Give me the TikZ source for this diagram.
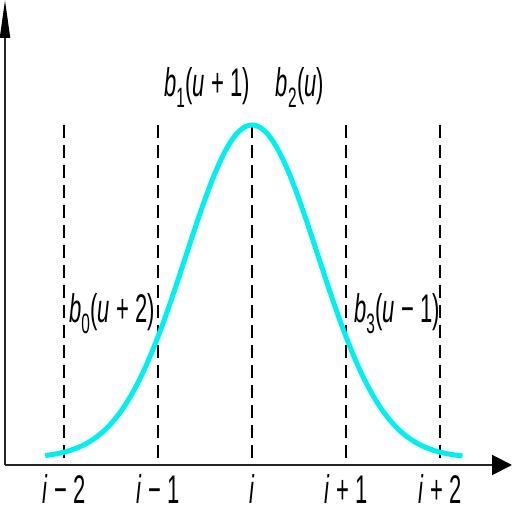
\documentclass[tikz,border=0pt]{standalone}
\usepackage{fontspec}
\setmainfont[FakeStretch=0.55]{Liberation Sans}
\usetikzlibrary{arrows.meta}
\definecolor{aqua}{RGB}{0,240,240}

\begin{document}
\begin{tikzpicture}[x=1pt, y=1pt,
  axis/.style={line width=2pt, color=black!85},
  knot/.style={dash pattern=on 13pt off 7pt, line width=1.3pt},
  basis/.style={line width=5pt, color=aqua},
  lbl/.style={font=\fontsize{40}{44}\selectfont, inner sep=0pt, anchor=base}
]
\useasboundingbox (0,0) rectangle (512,512);

% Axes
\coordinate (origin) at (5,47);
\coordinate (ytop) at (5,512);
\coordinate (xend) at (512,47);
\draw[axis, -{Triangle[length=38pt, width=10pt, color=black]}] (origin) -- (ytop);
\draw[axis, -{Triangle[length=20pt, width=20pt, color=black]}] (origin) -- (xend);

% Knot lines
\coordinate (km2) at (64,387);  \coordinate (km2b) at (64,47);
\coordinate (km1) at (158,387); \coordinate (km1b) at (158,47);
\coordinate (k0) at (252,387);  \coordinate (k0b) at (252,47);
\coordinate (kp1) at (346,387); \coordinate (kp1b) at (346,47);
\coordinate (kp2) at (440,387); \coordinate (kp2b) at (440,47);
\draw[knot] (km2) -- (km2b);
\draw[knot] (km1) -- (km1b);
\draw[knot] (k0) -- (k0b);
\draw[knot] (kp1) -- (kp1b);
\draw[knot] (kp2) -- (kp2b);

% Basis function
\draw[basis, domain=-2.2:2.24, samples=120, smooth]
  plot ({252 + 94*\x}, {54 + 333*exp(-1.01*\x*\x)});

% Segment labels
\node[lbl] (b1) at (207,415) {\textit{b}\textsubscript{1}(\textit{u} + 1)};
\node[lbl] (b2) at (300,415) {\textit{b}\textsubscript{2}(\textit{u})};
\node[lbl] (b0) at (112,189) {\textit{b}\textsubscript{0}(\textit{u} + 2)};
\node[lbl] (b3) at (397,189) {\textit{b}\textsubscript{3}(\textit{u} − 1)};

% Knot labels
\node[lbl] (tm2) at (64,9) {\textit{i} − 2};
\node[lbl] (tm1) at (158,9) {\textit{i} − 1};
\node[lbl] (t0) at (252,9) {\textit{i}};
\node[lbl] (tp1) at (346,9) {\textit{i} + 1};
\node[lbl] (tp2) at (440,9) {\textit{i} + 2};

\end{tikzpicture}
\end{document}
